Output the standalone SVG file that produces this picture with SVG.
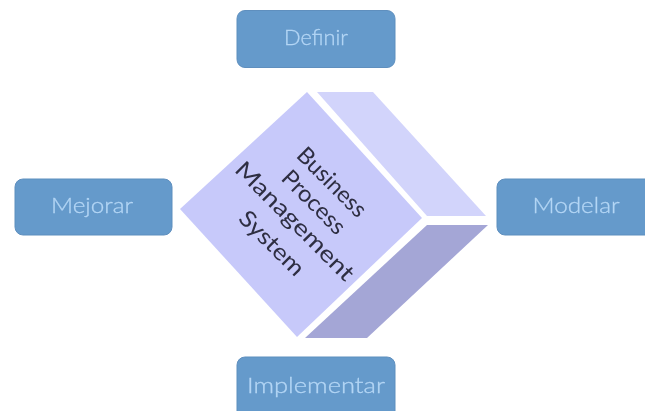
<svg xmlns="http://www.w3.org/2000/svg" width="645" height="411" viewBox="0 0 645 411">
<defs>
<style>
.btn{fill:#659ACB;stroke:#5F8FBE;stroke-width:1}
.lbl{font-family:"Lato","Liberation Sans",sans-serif;font-size:21px;font-weight:300;fill:#B4D6F5;text-anchor:middle;stroke:#B4D6F5;stroke-width:.3}
.bp{font-family:"Lato","Liberation Sans",sans-serif;font-size:23px;fill:#2E2E42;text-anchor:middle}
.soft{filter:url(#b)}
</style>
<filter id="b" x="-5%" y="-5%" width="110%" height="110%"><feGaussianBlur stdDeviation="0.6"/></filter>
</defs>
<rect width="645" height="411" fill="#FFFFFF"/>
<g id="cube" class="soft">
<polygon points="307,92 180,209 297,337 422,218" fill="#C7C9FA"/>
<polygon points="317,92 373,92 486,216 427,216" fill="#D2D4FB"/>
<polygon points="427,225 488,225 367,338 305,338" fill="#A4A6D6"/>
<g transform="rotate(45 332 182)"><text class="bp" x="332" y="190" textLength="88" lengthAdjust="spacingAndGlyphs">Business</text></g>
<g transform="rotate(45 314 202)"><text class="bp" x="314" y="210" textLength="80" lengthAdjust="spacingAndGlyphs">Process</text></g>
<g transform="rotate(45 295 221)"><text class="bp" x="295" y="229" textLength="158" lengthAdjust="spacingAndGlyphs">Management</text></g>
<g transform="rotate(45 272 243)"><text class="bp" x="272" y="251" textLength="82" lengthAdjust="spacingAndGlyphs">System</text></g>
</g>
<g id="definir" class="soft"><rect class="btn" x="237" y="10.500" width="158" height="57" rx="8"/><text class="lbl" x="316" y="45" textLength="64" lengthAdjust="spacingAndGlyphs">Definir</text></g>
<g id="mejorar" class="soft"><rect class="btn" x="15" y="179" width="157" height="56" rx="8"/><text class="lbl" x="92" y="213" textLength="82" lengthAdjust="spacingAndGlyphs">Mejorar</text></g>
<g id="modelar" class="soft"><rect class="btn" x="497" y="179" width="160" height="56" rx="8"/><text class="lbl" x="576" y="213" textLength="87" lengthAdjust="spacingAndGlyphs">Modelar</text></g>
<g id="implementar" class="soft"><rect class="btn" x="237" y="357" width="158" height="62" rx="8"/><text class="lbl" x="316" y="393" textLength="138" lengthAdjust="spacingAndGlyphs">Implementar</text></g>
<g id="connectors"></g>
</svg>
